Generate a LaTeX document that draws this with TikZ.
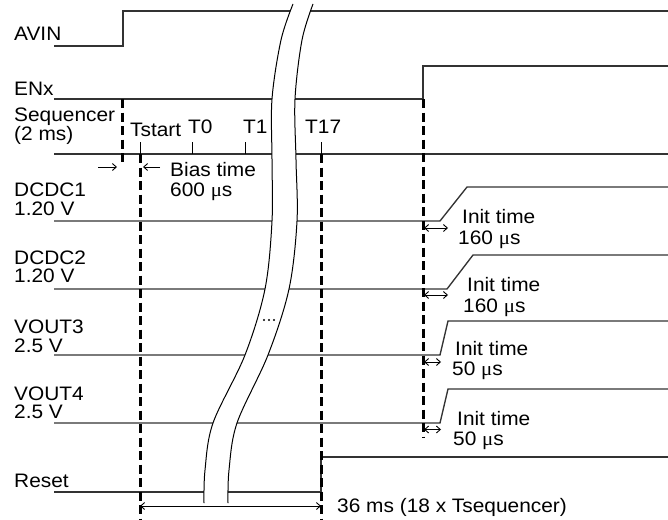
\documentclass[tikz,border=0pt]{standalone}
\usepackage{fontspec}
\setmainfont[FakeStretch=1.07]{Liberation Sans}
\newfontfamily\mufont[FakeStretch=1.07]{Liberation Serif}
\usetikzlibrary{arrows.meta}
\newcommand{\lbsize}{\fontsize{19.5}{19.5}\selectfont}
\newcommand{\us}{{\mufont μ}s}
\tikzset{
  sig/.style={line width=1.35pt, draw=black!80, line join=miter},
  dsh/.style={line width=3pt, dash pattern=on 9pt off 4.5pt},
  tick/.style={line width=1pt},
  lbl/.style={anchor=base west, inner sep=0pt, font=\lbsize},
  dimr/.style={line width=0.9pt, -{Straight Barb[length=4pt,width=7pt]}},
  dimb/.style={line width=0.9pt, {Straight Barb[length=4pt,width=7pt]}-{Straight Barb[length=4pt,width=7pt]}},
  brk/.style={line width=1pt}
}
\begin{document}
\begin{tikzpicture}[x=1pt,y=-1pt]
\useasboundingbox (0,0) rectangle (668,519);
% signal labels
\node[lbl] (lavin) at (14,41) {AVIN};
\node[lbl] (lenx) at (14,95) {ENx};
\node[lbl] (lseq) at (14,121) {Sequencer};
\node[lbl] (lseq2) at (14,140.5) {(2 ms)};
\node[lbl] (ld1) at (14,196) {DCDC1};
\node[lbl] (ld1v) at (14,215) {1.20 V};
\node[lbl] (ld2) at (14,264) {DCDC2};
\node[lbl] (ld2v) at (14,282) {1.20 V};
\node[lbl] (lv3) at (14,333) {VOUT3};
\node[lbl] (lv3v) at (14,352) {2.5 V};
\node[lbl] (lv4) at (14,400) {VOUT4};
\node[lbl] (lv4v) at (14,418) {2.5 V};
\node[lbl] (lrst) at (14,487) {Reset};
% time labels
\node[lbl] (ltstart) at (130,136) {Tstart};
\node[lbl] (lt0) at (188,133) {T0};
\node[lbl] (lt1) at (243,133) {T1};
\node[lbl] (lt17) at (305,133) {T17};
\node[lbl] (lbias) at (170,176) {Bias time};
\node[lbl] (lbias2) at (170,196) {600 \us};
\node[lbl] (li1) at (462,223) {Init time};
\node[lbl] (li1b) at (458,244) {160 \us};
\node[lbl] (li2) at (467,291) {Init time};
\node[lbl] (li2b) at (463,312) {160 \us};
\node[lbl] (li3) at (455,355) {Init time};
\node[lbl] (li3b) at (452,375) {50 \us};
\node[lbl] (li4) at (457,425) {Init time};
\node[lbl] (li4b) at (453,445) {50 \us};
\node[lbl] (ltot) at (337,512) {36 ms (18 x Tsequencer)};
% signals
\draw[sig] (54,46) -- (123,46) -- (123,11) -- (668,11);
\draw[sig] (54,99) -- (423,99) -- (423,66) -- (668,66);
\draw[sig] (54,154) -- (668,154);
\draw[sig] (54,221) -- (440,221) -- (467,187) -- (668,187);
\draw[sig] (54,289) -- (447,289) -- (473,255) -- (668,255);
\draw[sig] (54,355) -- (440,355) -- (448,321) -- (668,321);
\draw[sig] (54,423) -- (440,423) -- (448,389) -- (668,389);
\draw[sig] (54,492) -- (321,492) -- (321,457) -- (668,457);
% ticks
\draw[tick] (140,142) -- (140,154);
\draw[tick] (192,142) -- (192,154);
\draw[tick] (245,142) -- (245,154);
\draw[tick] (321,142) -- (321,154);
% dashed markers
\draw[dsh] (122,99) -- (122,164);
\draw[dsh] (140,154) -- (140,519);
\draw[dsh] (321,154) -- (321,519);
\draw[dsh] (423,99) -- (423,437);
% break band
\fill[white] plot[smooth, tension=0.55] coordinates {(293,4) (281,40) (272,99) (272,160) (272,221) (265,289) (245,355) (213,423) (205,470) (204,503)}
  -- plot[smooth, tension=0.55] coordinates {(228,503) (229,470) (237,423) (268,355) (289,289) (297,221) (296,160) (295,99) (302,40) (313,4)} -- cycle;
\draw[brk] plot[smooth, tension=0.55] coordinates {(293,4) (281,40) (272,99) (272,160) (272,221) (265,289) (245,355) (213,423) (205,470) (204,503)};
\draw[brk] plot[smooth, tension=0.55] coordinates {(313,4) (302,40) (295,99) (296,160) (297,221) (289,289) (268,355) (237,423) (229,470) (228,503)};
\foreach \dx in {264,269,274} \fill (\dx,320) circle (1.2pt);
% dimension arrows
\coordinate (a1s) at (98,167); \coordinate (a1e) at (117,167);
\draw[dimr] (a1s) -- (a1e);
\coordinate (a2s) at (160,167); \coordinate (a2e) at (143,167);
\draw[dimr] (a2s) -- (a2e);
\coordinate (i1a) at (424,228); \coordinate (i1b) at (448,228);
\draw[dimb] (i1a) -- (i1b);
\coordinate (i2a) at (424,295); \coordinate (i2b) at (448,295);
\draw[dimb] (i2a) -- (i2b);
\coordinate (i3a) at (424,362); \coordinate (i3b) at (441,362);
\draw[dimb] (i3a) -- (i3b);
\coordinate (i4a) at (424,429.5); \coordinate (i4b) at (441,429.5);
\draw[dimb] (i4a) -- (i4b);
\coordinate (ta) at (140,506); \coordinate (tb) at (321,506);
\draw[dimb] (ta) -- (tb);
\end{tikzpicture}
\end{document}
